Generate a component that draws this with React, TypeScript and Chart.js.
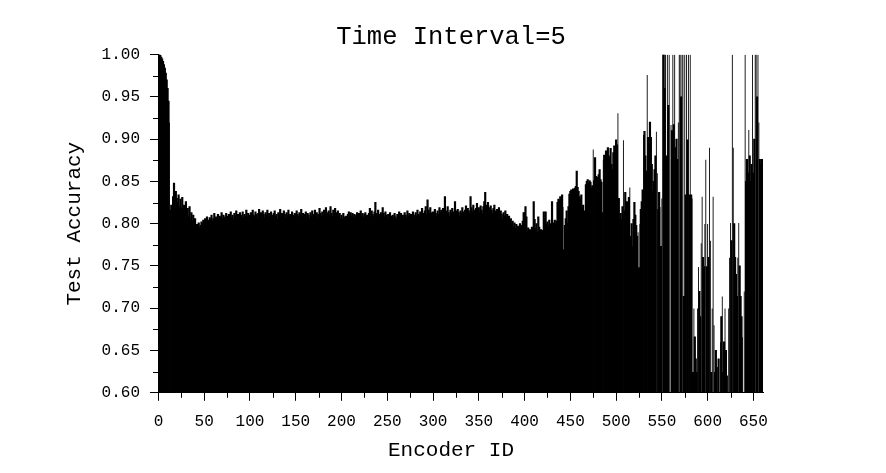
import { useEffect, useRef } from "react";
import { Chart, registerables } from "chart.js";

Chart.register(...registerables);

const TITLE = "Time Interval=5";
const X_TITLE = "Encoder ID";
const Y_TITLE = "Test Accuracy";
const X_TICKS = [0, 50, 100, 150, 200, 250, 300, 350, 400, 450, 500, 550, 600, 650];
const X_MINOR_TICKS = [25, 75, 125, 175, 225, 275, 325, 375, 425, 475, 525, 575, 625];
const Y_TICKS = [0.6, 0.65, 0.7, 0.75, 0.8, 0.85, 0.9, 0.95, 1.0];
const Y_MINOR_TICKS = [0.625, 0.675, 0.725, 0.775, 0.825, 0.875, 0.925, 0.975];

// Test accuracy per encoder, in blocks of 50 encoders
const acc000 = [
  1.000, 1.000, 0.999, 0.997, 0.995, 0.992, 0.988, 0.984, 0.978, 0.970,
  0.960, 0.945, 0.920, 0.816, 0.822, 0.818, 0.832, 0.848, 0.826, 0.838,
  0.830, 0.825, 0.834, 0.820, 0.829, 0.818, 0.831, 0.815, 0.822, 0.810,
  0.826, 0.812, 0.818, 0.808, 0.820, 0.806, 0.813, 0.803, 0.810, 0.800,
  0.806, 0.797, 0.799, 0.796, 0.801, 0.795, 0.798, 0.802, 0.800, 0.804,
];
const acc050 = [
  0.801, 0.806, 0.803, 0.808, 0.804, 0.802, 0.807, 0.805, 0.810, 0.803,
  0.806, 0.812, 0.804, 0.808, 0.806, 0.811, 0.805, 0.809, 0.807, 0.813,
  0.806, 0.810, 0.808, 0.805, 0.812, 0.809, 0.806, 0.811, 0.808, 0.814,
  0.807, 0.810, 0.806, 0.812, 0.809, 0.815, 0.808, 0.811, 0.806, 0.813,
  0.810, 0.808, 0.814, 0.807, 0.811, 0.809, 0.816, 0.808, 0.812, 0.810,
];
const acc100 = [
  0.807, 0.813, 0.809, 0.816, 0.810, 0.808, 0.814, 0.811, 0.806, 0.812,
  0.817, 0.809, 0.813, 0.808, 0.815, 0.811, 0.807, 0.813, 0.810, 0.816,
  0.808, 0.812, 0.809, 0.814, 0.810, 0.807, 0.812, 0.815, 0.809, 0.811,
  0.806, 0.813, 0.810, 0.817, 0.808, 0.812, 0.809, 0.815, 0.811, 0.807,
  0.813, 0.810, 0.816, 0.808, 0.811, 0.809, 0.814, 0.810, 0.806, 0.812,
];
const acc150 = [
  0.809, 0.815, 0.811, 0.808, 0.813, 0.810, 0.817, 0.809, 0.812, 0.807,
  0.811, 0.814, 0.808, 0.812, 0.810, 0.806, 0.813, 0.809, 0.815, 0.811,
  0.808, 0.816, 0.810, 0.813, 0.807, 0.811, 0.818, 0.812, 0.809, 0.814,
  0.810, 0.816, 0.811, 0.819, 0.813, 0.808, 0.815, 0.810, 0.820, 0.812,
  0.809, 0.816, 0.811, 0.818, 0.813, 0.810, 0.815, 0.808, 0.812, 0.806,
];
const acc200 = [
  0.810, 0.805, 0.812, 0.808, 0.803, 0.809, 0.806, 0.811, 0.814, 0.808,
  0.813, 0.809, 0.812, 0.807, 0.811, 0.806, 0.810, 0.813, 0.808, 0.812,
  0.805, 0.815, 0.809, 0.812, 0.807, 0.811, 0.813, 0.808, 0.810, 0.806,
  0.812, 0.818, 0.809, 0.815, 0.811, 0.808, 0.814, 0.825, 0.812, 0.809,
  0.816, 0.811, 0.807, 0.813, 0.810, 0.819, 0.812, 0.808, 0.814, 0.810,
];
const acc250 = [
  0.806, 0.811, 0.808, 0.813, 0.809, 0.804, 0.810, 0.807, 0.812, 0.808,
  0.805, 0.811, 0.809, 0.814, 0.807, 0.812, 0.808, 0.810, 0.806, 0.813,
  0.810, 0.807, 0.815, 0.809, 0.812, 0.806, 0.811, 0.808, 0.814, 0.810,
  0.807, 0.813, 0.809, 0.816, 0.811, 0.808, 0.814, 0.810, 0.818, 0.812,
  0.809, 0.815, 0.820, 0.811, 0.828, 0.816, 0.812, 0.819, 0.813, 0.809,
];
const acc300 = [
  0.814, 0.810, 0.817, 0.812, 0.808, 0.815, 0.811, 0.819, 0.813, 0.816,
  0.810, 0.818, 0.812, 0.832, 0.815, 0.811, 0.820, 0.813, 0.809, 0.816,
  0.812, 0.818, 0.814, 0.810, 0.826, 0.815, 0.811, 0.817, 0.813, 0.809,
  0.815, 0.812, 0.819, 0.814, 0.810, 0.816, 0.821, 0.813, 0.818, 0.815,
  0.812, 0.832, 0.819, 0.814, 0.822, 0.816, 0.811, 0.818, 0.824, 0.815,
];
const acc350 = [
  0.819, 0.813, 0.821, 0.816, 0.812, 0.820, 0.826, 0.837, 0.822, 0.817,
  0.825, 0.819, 0.814, 0.821, 0.816, 0.812, 0.818, 0.822, 0.815, 0.811,
  0.817, 0.813, 0.819, 0.808, 0.815, 0.811, 0.806, 0.813, 0.809, 0.815,
  0.807, 0.811, 0.804, 0.809, 0.802, 0.806, 0.799, 0.803, 0.796, 0.801,
  0.794, 0.799, 0.792, 0.797, 0.795, 0.800, 0.793, 0.798, 0.803, 0.813,
];
const acc400 = [
  0.813, 0.820, 0.808, 0.791, 0.795, 0.789, 0.793, 0.790, 0.796, 0.792,
  0.826, 0.805, 0.794, 0.800, 0.790, 0.808, 0.796, 0.789, 0.793, 0.788,
  0.792, 0.814, 0.806, 0.814, 0.799, 0.802, 0.797, 0.804, 0.800, 0.795,
  0.826, 0.801, 0.798, 0.804, 0.800, 0.803, 0.825, 0.829, 0.827, 0.832,
  0.830, 0.834, 0.820, 0.769, 0.798, 0.806, 0.815, 0.801, 0.820, 0.835,
];
const acc450 = [
  0.838, 0.840, 0.836, 0.841, 0.839, 0.842, 0.844, 0.862, 0.843, 0.838,
  0.832, 0.829, 0.834, 0.818, 0.822, 0.815, 0.807, 0.846, 0.850, 0.852,
  0.848, 0.851, 0.849, 0.842, 0.845, 0.888, 0.851, 0.878, 0.856, 0.828,
  0.855, 0.858, 0.864, 0.852, 0.849, 0.813, 0.876, 0.881, 0.878, 0.886,
  0.883, 0.890, 0.880, 0.876, 0.889, 0.870, 0.864, 0.884, 0.892, 0.887,
];
const acc500 = [
  0.899, 0.893, 0.931, 0.830, 0.805, 0.812, 0.805, 0.820, 0.899, 0.815,
  0.837, 0.812, 0.826, 0.818, 0.831, 0.843, 0.785, 0.800, 0.773, 0.805,
  0.825, 0.810, 0.798, 0.785, 0.790, 0.748, 0.800, 0.817, 0.826, 0.840,
  0.905, 0.909, 0.880, 0.862, 0.976, 0.902, 0.888, 0.920, 0.902, 0.870,
  0.838, 0.850, 0.864, 0.880, 0.909, 0.860, 0.817, 0.837, 0.820, 0.773,
];
const acc550 = [
  0.830, 1.000, 1.000, 0.960, 1.000, 0.880, 1.000, 0.940, 1.000, 0.600,
  0.917, 0.910, 1.000, 0.917, 1.000, 0.890, 0.900, 0.876, 0.920, 1.000,
  1.000, 0.950, 1.000, 1.000, 0.714, 1.000, 0.834, 1.000, 0.899, 1.000,
  0.834, 1.000, 0.834, 0.830, 0.624, 0.700, 0.666, 0.640, 0.624, 0.700,
  0.749, 0.720, 0.690, 0.777, 0.832, 0.760, 0.749, 0.800, 0.876, 0.749,
];
const acc600 = [
  0.800, 0.760, 0.890, 0.780, 0.624, 0.700, 0.832, 0.680, 0.624, 0.650,
  0.630, 0.600, 0.640, 0.600, 0.660, 0.690, 0.714, 0.624, 0.660, 0.700,
  0.650, 0.620, 0.600, 0.700, 0.760, 0.801, 0.780, 1.000, 0.890, 0.800,
  0.760, 0.740, 0.714, 0.760, 0.801, 0.750, 0.714, 0.690, 0.666, 0.600,
  0.720, 1.000, 0.850, 0.876, 0.860, 0.911, 0.880, 0.850, 0.870, 1.000,
];
const acc650 = [0.860, 0.900, 1.000, 1.000, 0.950, 1.000, 0.920, 0.876, 0.870, 0.876, 0.876];

const ACCURACY = [
  ...acc000, ...acc050, ...acc100, ...acc150, ...acc200, ...acc250, ...acc300,
  ...acc350, ...acc400, ...acc450, ...acc500, ...acc550, ...acc600, ...acc650,
];
const ENCODER_IDS = ACCURACY.map((_, i) => i);

const FONT = "'Liberation Mono', 'DejaVu Sans Mono', monospace";

// Widen bars so neighbours join into a solid fill, but narrow the ones next to a
// much lower neighbour so the white gap above that neighbour stays visible.
function barInflate(ctx: any): number {
  const i = ctx.dataIndex;
  const v = ACCURACY[i];
  const prev = i > 0 ? ACCURACY[i - 1] : v;
  const next = i < ACCURACY.length - 1 ? ACCURACY[i + 1] : v;
  if (v <= 0.6) return 0;
  if (prev < v - 0.04 || next < v - 0.04) return -0.2;
  return 0.45;
}

const minorTicksPlugin = {
  id: "minorTicks",
  afterDraw(chart: any) {
    const { ctx, chartArea, scales } = chart;
    const xs = scales.x;
    const ys = scales.y;
    ctx.save();
    ctx.strokeStyle = "#000";
    ctx.lineWidth = 1;
    ctx.beginPath();
    for (const v of X_MINOR_TICKS) {
      const px = Math.round(xs.getPixelForValue(v)) + 0.5;
      ctx.moveTo(px, chartArea.bottom);
      ctx.lineTo(px, chartArea.bottom + 5);
    }
    for (const v of Y_MINOR_TICKS) {
      const py = Math.round(ys.getPixelForValue(v)) + 0.5;
      ctx.moveTo(chartArea.left, py);
      ctx.lineTo(chartArea.left - 5, py);
    }
    ctx.stroke();
    ctx.restore();
  },
};

export default function App() {
  const canvasRef = useRef<HTMLCanvasElement | null>(null);

  useEffect(() => {
    if (!canvasRef.current) return;
    const points = ENCODER_IDS.map((id, i) => ({ x: id, y: ACCURACY[i] }));
    const chart = new Chart(canvasRef.current, {
      type: "bar",
      data: {
        datasets: [
          {
            label: Y_TITLE,
            data: points as any,
            backgroundColor: "#000000",
            borderWidth: 0,
            barPercentage: 1.4,
            categoryPercentage: 1,
            inflateAmount: barInflate,
          },
        ],
      },
      plugins: [minorTicksPlugin],
      options: {
        animation: false,
        responsive: true,
        maintainAspectRatio: false,
        devicePixelRatio: 1,
        layout: { padding: { left: 16, right: 0, top: 0, bottom: 0 } },
        plugins: {
          legend: { display: false },
          tooltip: { enabled: false },
          title: {
            display: true,
            text: TITLE,
            color: "#000",
            font: { family: FONT, size: 25.5, weight: "normal" },
            padding: { top: 22, bottom: 2 },
          },
          subtitle: {
            display: true,
            position: "bottom",
            text: X_TITLE,
            color: "#000",
            font: { family: FONT, size: 21, weight: "normal" },
            padding: { top: 5, bottom: 10 },
          },
        },
        scales: {
          x: {
            type: "linear",
            offset: false,
            min: -0.5,
            max: 660.5,
            afterBuildTicks: (scale: any) => {
              scale.ticks = X_TICKS.map((v) => ({ value: v }));
            },
            afterFit: (scale: any) => {
              scale.height = 40;
            },
            ticks: {
              color: "#000",
              font: { family: FONT, size: 16 },
              padding: 11,
              maxRotation: 0,
              autoSkip: false,
              callback: (v: any) => String(v),
            },
            grid: {
              display: true,
              offset: false,
              drawOnChartArea: false,
              drawTicks: true,
              tickLength: 8,
              color: "#000",
            },
            border: { display: true, color: "#000", width: 1 },
          },
          y: {
            type: "linear",
            min: 0.6,
            max: 1.0,
            afterBuildTicks: (scale: any) => {
              scale.ticks = Y_TICKS.map((v) => ({ value: v }));
            },
            afterFit: (scale: any) => {
              scale.width = 142;
            },
            ticks: {
              color: "#000",
              font: { family: FONT, size: 16 },
              padding: 10,
              callback: (v: any) => Number(v).toFixed(2),
            },
            grid: {
              display: true,
              drawOnChartArea: false,
              drawTicks: true,
              tickLength: 8,
              color: "#000",
            },
            border: { display: true, color: "#000", width: 1 },
            title: {
              display: true,
              text: Y_TITLE,
              color: "#000",
              font: { family: FONT, size: 21, weight: "normal" },
              padding: { top: 46, bottom: 0 },
            },
          },
          yRight: {
            type: "linear",
            position: "right",
            min: 0.6,
            max: 1.0,
            display: true,
            grid: { display: false, drawTicks: false },
            ticks: { display: false },
            border: { display: false },
            afterFit: (scale: any) => {
              scale.width = 123;
            },
          },
        },
      },
    } as any);
    return () => chart.destroy();
  }, []);

  return (
    <div style={{ position: "absolute", left: 0, top: 0, width: 886, height: 473, background: "#fff" }}>
      <canvas ref={canvasRef} />
    </div>
  );
}
